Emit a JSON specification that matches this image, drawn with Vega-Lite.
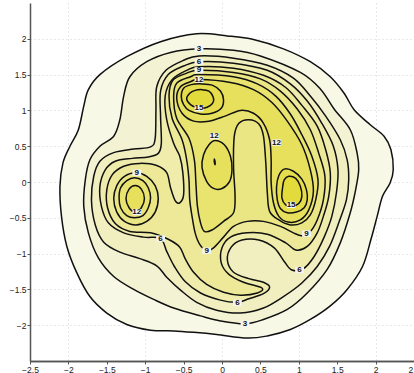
{
  "$schema": "https://vega.github.io/schema/vega-lite/v6.json",
  "width": 384,
  "height": 358,
  "autosize": "none",
  "padding": {"left": 30, "top": 3, "right": 0, "bottom": 12},
  "background": "white",
  "config": {
    "view": {"stroke": null},
    "axis": {
      "grid": true, "gridColor": "#c4c4c4", "gridDash": [1, 3], "gridWidth": 0.8,
      "domainColor": "#555", "domainWidth": 1.5, "tickColor": "#555", "tickSize": 3,
      "labelFont": "Liberation Sans", "labelFontSize": 8.5, "labelColor": "#222", "labelPadding": 1,
      "labelOverlap": false, "labelFlush": false, "format": "~g", "title": null
    }
  },
  "resolve": {"axis": {"x": "independent"}},
  "datasets": {
    "contours": [
      {"p":"p01","l":1.5,"i":0,"x":-0.33,"y":2.07},{"p":"p01","l":1.5,"i":1,"x":0.07,"y":2.04},{"p":"p01","l":1.5,"i":2,"x":0.41,"y":1.99},{"p":"p01","l":1.5,"i":3,"x":0.80,"y":1.86},{"p":"p01","l":1.5,"i":4,"x":1.15,"y":1.68},{"p":"p01","l":1.5,"i":5,"x":1.41,"y":1.47},{"p":"p01","l":1.5,"i":6,"x":1.59,"y":1.24},{"p":"p01","l":1.5,"i":7,"x":1.72,"y":1.01},{"p":"p01","l":1.5,"i":8,"x":1.93,"y":0.80},{"p":"p01","l":1.5,"i":9,"x":2.11,"y":0.64},{"p":"p01","l":1.5,"i":10,"x":2.20,"y":0.45},{"p":"p01","l":1.5,"i":11,"x":2.23,"y":0.17},{"p":"p01","l":1.5,"i":12,"x":2.19,"y":-0.01},{"p":"p01","l":1.5,"i":13,"x":2.09,"y":-0.20},{"p":"p01","l":1.5,"i":14,"x":2.02,"y":-0.48},{"p":"p01","l":1.5,"i":15,"x":1.94,"y":-0.80},{"p":"p01","l":1.5,"i":16,"x":1.83,"y":-1.18},{"p":"p01","l":1.5,"i":17,"x":1.63,"y":-1.50},{"p":"p01","l":1.5,"i":18,"x":1.41,"y":-1.73},{"p":"p01","l":1.5,"i":19,"x":1.15,"y":-1.92},{"p":"p01","l":1.5,"i":20,"x":0.89,"y":-2.06},{"p":"p01","l":1.5,"i":21,"x":0.59,"y":-2.15},{"p":"p01","l":1.5,"i":22,"x":0.33,"y":-2.18},{"p":"p01","l":1.5,"i":23,"x":-0.07,"y":-2.13},{"p":"p01","l":1.5,"i":24,"x":-0.37,"y":-2.10},{"p":"p01","l":1.5,"i":25,"x":-0.63,"y":-2.08},{"p":"p01","l":1.5,"i":26,"x":-0.93,"y":-2.07},{"p":"p01","l":1.5,"i":27,"x":-1.24,"y":-1.99},{"p":"p01","l":1.5,"i":28,"x":-1.50,"y":-1.83},{"p":"p01","l":1.5,"i":29,"x":-1.72,"y":-1.60},{"p":"p01","l":1.5,"i":30,"x":-1.89,"y":-1.27},{"p":"p01","l":1.5,"i":31,"x":-2.02,"y":-0.90},{"p":"p01","l":1.5,"i":32,"x":-2.09,"y":-0.48},{"p":"p01","l":1.5,"i":33,"x":-2.11,"y":-0.06},{"p":"p01","l":1.5,"i":34,"x":-2.07,"y":0.27},{"p":"p01","l":1.5,"i":35,"x":-1.98,"y":0.50},{"p":"p01","l":1.5,"i":36,"x":-1.87,"y":0.73},{"p":"p01","l":1.5,"i":37,"x":-1.80,"y":1.06},{"p":"p01","l":1.5,"i":38,"x":-1.74,"y":1.29},{"p":"p01","l":1.5,"i":39,"x":-1.59,"y":1.50},{"p":"p01","l":1.5,"i":40,"x":-1.24,"y":1.75},{"p":"p01","l":1.5,"i":41,"x":-0.80,"y":1.96},

      {"p":"p02","l":3,"i":0,"x":-0.30,"y":1.86},{"p":"p02","l":3,"i":1,"x":0.15,"y":1.84},{"p":"p02","l":3,"i":2,"x":0.50,"y":1.76},{"p":"p02","l":3,"i":3,"x":1.02,"y":1.53},{"p":"p02","l":3,"i":4,"x":1.28,"y":1.30},{"p":"p02","l":3,"i":5,"x":1.46,"y":1.02},{"p":"p02","l":3,"i":6,"x":1.67,"y":0.73},{"p":"p02","l":3,"i":7,"x":1.76,"y":0.40},{"p":"p02","l":3,"i":8,"x":1.78,"y":0.17},{"p":"p02","l":3,"i":9,"x":1.74,"y":-0.11},{"p":"p02","l":3,"i":10,"x":1.67,"y":-0.43},{"p":"p02","l":3,"i":11,"x":1.54,"y":-0.85},{"p":"p02","l":3,"i":12,"x":1.37,"y":-1.22},{"p":"p02","l":3,"i":13,"x":1.11,"y":-1.55},{"p":"p02","l":3,"i":14,"x":0.85,"y":-1.78},{"p":"p02","l":3,"i":15,"x":0.54,"y":-1.92},{"p":"p02","l":3,"i":16,"x":0.30,"y":-1.98},{"p":"p02","l":3,"i":17,"x":-0.02,"y":-1.94},{"p":"p02","l":3,"i":18,"x":-0.28,"y":-1.87},{"p":"p02","l":3,"i":19,"x":-0.63,"y":-1.76},{"p":"p02","l":3,"i":20,"x":-0.89,"y":-1.64},{"p":"p02","l":3,"i":21,"x":-1.15,"y":-1.50},{"p":"p02","l":3,"i":22,"x":-1.41,"y":-1.32},{"p":"p02","l":3,"i":23,"x":-1.61,"y":-1.06},{"p":"p02","l":3,"i":24,"x":-1.74,"y":-0.71},{"p":"p02","l":3,"i":25,"x":-1.80,"y":-0.34},{"p":"p02","l":3,"i":26,"x":-1.78,"y":0.03},{"p":"p02","l":3,"i":27,"x":-1.72,"y":0.31},{"p":"p02","l":3,"i":28,"x":-1.59,"y":0.50},{"p":"p02","l":3,"i":29,"x":-1.41,"y":0.64},{"p":"p02","l":3,"i":30,"x":-1.33,"y":0.87},{"p":"p02","l":3,"i":31,"x":-1.28,"y":1.20},{"p":"p02","l":3,"i":32,"x":-1.20,"y":1.47},{"p":"p02","l":3,"i":33,"x":-0.98,"y":1.68},{"p":"p02","l":3,"i":34,"x":-0.67,"y":1.81},

      {"p":"p03","l":4.5,"i":0,"x":-0.30,"y":1.76},{"p":"p03","l":4.5,"i":1,"x":0.15,"y":1.73},{"p":"p03","l":4.5,"i":2,"x":0.59,"y":1.63},{"p":"p03","l":4.5,"i":3,"x":0.93,"y":1.45},{"p":"p03","l":4.5,"i":4,"x":1.15,"y":1.20},{"p":"p03","l":4.5,"i":5,"x":1.35,"y":0.92},{"p":"p03","l":4.5,"i":6,"x":1.54,"y":0.59},{"p":"p03","l":4.5,"i":7,"x":1.63,"y":0.31},{"p":"p03","l":4.5,"i":8,"x":1.65,"y":0.03},{"p":"p03","l":4.5,"i":9,"x":1.62,"y":-0.25},{"p":"p03","l":4.5,"i":10,"x":1.52,"y":-0.57},{"p":"p03","l":4.5,"i":11,"x":1.40,"y":-0.90},{"p":"p03","l":4.5,"i":12,"x":1.24,"y":-1.18},{"p":"p03","l":4.5,"i":13,"x":1.04,"y":-1.41},{"p":"p03","l":4.5,"i":14,"x":0.80,"y":-1.60},{"p":"p03","l":4.5,"i":15,"x":0.54,"y":-1.76},{"p":"p03","l":4.5,"i":16,"x":0.24,"y":-1.83},{"p":"p03","l":4.5,"i":17,"x":-0.07,"y":-1.79},{"p":"p03","l":4.5,"i":18,"x":-0.33,"y":-1.68},{"p":"p03","l":4.5,"i":19,"x":-0.54,"y":-1.51},{"p":"p03","l":4.5,"i":20,"x":-0.72,"y":-1.33},{"p":"p03","l":4.5,"i":21,"x":-0.85,"y":-1.17},{"p":"p03","l":4.5,"i":22,"x":-1.07,"y":-1.07},{"p":"p03","l":4.5,"i":23,"x":-1.33,"y":-0.98},{"p":"p03","l":4.5,"i":24,"x":-1.54,"y":-0.84},{"p":"p03","l":4.5,"i":25,"x":-1.65,"y":-0.60},{"p":"p03","l":4.5,"i":26,"x":-1.70,"y":-0.25},{"p":"p03","l":4.5,"i":27,"x":-1.67,"y":0.08},{"p":"p03","l":4.5,"i":28,"x":-1.59,"y":0.29},{"p":"p03","l":4.5,"i":29,"x":-1.41,"y":0.41},{"p":"p03","l":4.5,"i":30,"x":-1.15,"y":0.46},{"p":"p03","l":4.5,"i":31,"x":-0.93,"y":0.49},{"p":"p03","l":4.5,"i":32,"x":-0.87,"y":0.61},{"p":"p03","l":4.5,"i":33,"x":-0.86,"y":1.01},{"p":"p03","l":4.5,"i":34,"x":-0.85,"y":1.33},{"p":"p03","l":4.5,"i":35,"x":-0.73,"y":1.56},{"p":"p03","l":4.5,"i":36,"x":-0.50,"y":1.70},

      {"p":"p04","l":6,"i":0,"x":-0.30,"y":1.68},{"p":"p04","l":6,"i":1,"x":0.15,"y":1.66},{"p":"p04","l":6,"i":2,"x":0.59,"y":1.56},{"p":"p04","l":6,"i":3,"x":0.89,"y":1.37},{"p":"p04","l":6,"i":4,"x":1.11,"y":1.13},{"p":"p04","l":6,"i":5,"x":1.30,"y":0.82},{"p":"p04","l":6,"i":6,"x":1.45,"y":0.50},{"p":"p04","l":6,"i":7,"x":1.51,"y":0.17},{"p":"p04","l":6,"i":8,"x":1.49,"y":-0.15},{"p":"p04","l":6,"i":9,"x":1.43,"y":-0.48},{"p":"p04","l":6,"i":10,"x":1.33,"y":-0.77},{"p":"p04","l":6,"i":11,"x":1.20,"y":-1.04},{"p":"p04","l":6,"i":12,"x":1.06,"y":-1.21},{"p":"p04","l":6,"i":13,"x":0.91,"y":-1.23},{"p":"p04","l":6,"i":14,"x":0.81,"y":-1.11},{"p":"p04","l":6,"i":15,"x":0.68,"y":-0.92},{"p":"p04","l":6,"i":16,"x":0.48,"y":-0.81},{"p":"p04","l":6,"i":17,"x":0.26,"y":-0.81},{"p":"p04","l":6,"i":18,"x":0.12,"y":-0.91},{"p":"p04","l":6,"i":19,"x":0.07,"y":-1.09},{"p":"p04","l":6,"i":20,"x":0.15,"y":-1.26},{"p":"p04","l":6,"i":21,"x":0.35,"y":-1.35},{"p":"p04","l":6,"i":22,"x":0.54,"y":-1.40},{"p":"p04","l":6,"i":23,"x":0.62,"y":-1.47},{"p":"p04","l":6,"i":24,"x":0.54,"y":-1.56},{"p":"p04","l":6,"i":25,"x":0.35,"y":-1.63},{"p":"p04","l":6,"i":26,"x":0.20,"y":-1.68},{"p":"p04","l":6,"i":27,"x":-0.02,"y":-1.65},{"p":"p04","l":6,"i":28,"x":-0.28,"y":-1.55},{"p":"p04","l":6,"i":29,"x":-0.48,"y":-1.39},{"p":"p04","l":6,"i":30,"x":-0.62,"y":-1.18},{"p":"p04","l":6,"i":31,"x":-0.72,"y":-0.97},{"p":"p04","l":6,"i":32,"x":-0.80,"y":-0.79},{"p":"p04","l":6,"i":33,"x":-1.02,"y":-0.77},{"p":"p04","l":6,"i":34,"x":-1.28,"y":-0.71},{"p":"p04","l":6,"i":35,"x":-1.48,"y":-0.57},{"p":"p04","l":6,"i":36,"x":-1.57,"y":-0.34},{"p":"p04","l":6,"i":37,"x":-1.59,"y":-0.06},{"p":"p04","l":6,"i":38,"x":-1.52,"y":0.17},{"p":"p04","l":6,"i":39,"x":-1.39,"y":0.29},{"p":"p04","l":6,"i":40,"x":-1.17,"y":0.33},{"p":"p04","l":6,"i":41,"x":-0.96,"y":0.35},{"p":"p04","l":6,"i":42,"x":-0.83,"y":0.40},{"p":"p04","l":6,"i":43,"x":-0.79,"y":0.54},{"p":"p04","l":6,"i":44,"x":-0.80,"y":0.92},{"p":"p04","l":6,"i":45,"x":-0.80,"y":1.27},{"p":"p04","l":6,"i":46,"x":-0.70,"y":1.50},{"p":"p04","l":6,"i":47,"x":-0.50,"y":1.62},

      {"p":"p05","l":7.5,"i":0,"x":-0.30,"y":1.61},{"p":"p05","l":7.5,"i":1,"x":0.15,"y":1.59},{"p":"p05","l":7.5,"i":2,"x":0.54,"y":1.49},{"p":"p05","l":7.5,"i":3,"x":0.83,"y":1.32},{"p":"p05","l":7.5,"i":4,"x":1.04,"y":1.07},{"p":"p05","l":7.5,"i":5,"x":1.24,"y":0.78},{"p":"p05","l":7.5,"i":6,"x":1.35,"y":0.45},{"p":"p05","l":7.5,"i":7,"x":1.41,"y":0.13},{"p":"p05","l":7.5,"i":8,"x":1.39,"y":-0.20},{"p":"p05","l":7.5,"i":9,"x":1.32,"y":-0.48},{"p":"p05","l":7.5,"i":10,"x":1.24,"y":-0.71},{"p":"p05","l":7.5,"i":11,"x":1.11,"y":-0.90},{"p":"p05","l":7.5,"i":12,"x":0.96,"y":-0.95},{"p":"p05","l":7.5,"i":13,"x":0.83,"y":-0.85},{"p":"p05","l":7.5,"i":14,"x":0.59,"y":-0.73},{"p":"p05","l":7.5,"i":15,"x":0.33,"y":-0.71},{"p":"p05","l":7.5,"i":16,"x":0.11,"y":-0.77},{"p":"p05","l":7.5,"i":17,"x":0.00,"y":-0.92},{"p":"p05","l":7.5,"i":18,"x":-0.01,"y":-1.13},{"p":"p05","l":7.5,"i":19,"x":0.09,"y":-1.29},{"p":"p05","l":7.5,"i":20,"x":0.28,"y":-1.40},{"p":"p05","l":7.5,"i":21,"x":0.52,"y":-1.48},{"p":"p05","l":7.5,"i":22,"x":0.46,"y":-1.55},{"p":"p05","l":7.5,"i":23,"x":0.24,"y":-1.58},{"p":"p05","l":7.5,"i":24,"x":0.02,"y":-1.54},{"p":"p05","l":7.5,"i":25,"x":-0.20,"y":-1.43},{"p":"p05","l":7.5,"i":26,"x":-0.37,"y":-1.26},{"p":"p05","l":7.5,"i":27,"x":-0.48,"y":-1.07},{"p":"p05","l":7.5,"i":28,"x":-0.55,"y":-0.91},{"p":"p05","l":7.5,"i":29,"x":-0.70,"y":-0.80},{"p":"p05","l":7.5,"i":30,"x":-0.93,"y":-0.71},{"p":"p05","l":7.5,"i":31,"x":-1.20,"y":-0.69},{"p":"p05","l":7.5,"i":32,"x":-1.39,"y":-0.58},{"p":"p05","l":7.5,"i":33,"x":-1.49,"y":-0.36},{"p":"p05","l":7.5,"i":34,"x":-1.50,"y":-0.11},{"p":"p05","l":7.5,"i":35,"x":-1.43,"y":0.10},{"p":"p05","l":7.5,"i":36,"x":-1.28,"y":0.22},{"p":"p05","l":7.5,"i":37,"x":-1.07,"y":0.26},{"p":"p05","l":7.5,"i":38,"x":-0.85,"y":0.23},{"p":"p05","l":7.5,"i":39,"x":-0.72,"y":0.13},{"p":"p05","l":7.5,"i":40,"x":-0.67,"y":-0.08},{"p":"p05","l":7.5,"i":41,"x":-0.61,"y":-0.26},{"p":"p05","l":7.5,"i":42,"x":-0.55,"y":-0.29},{"p":"p05","l":7.5,"i":43,"x":-0.50,"y":-0.18},{"p":"p05","l":7.5,"i":44,"x":-0.51,"y":0.13},{"p":"p05","l":7.5,"i":45,"x":-0.55,"y":0.36},{"p":"p05","l":7.5,"i":46,"x":-0.63,"y":0.54},{"p":"p05","l":7.5,"i":47,"x":-0.72,"y":0.87},{"p":"p05","l":7.5,"i":48,"x":-0.74,"y":1.20},{"p":"p05","l":7.5,"i":49,"x":-0.65,"y":1.43},{"p":"p05","l":7.5,"i":50,"x":-0.46,"y":1.56},

      {"p":"p06","l":9,"i":0,"x":-0.83,"y":-0.23},{"p":"p06","l":9,"i":1,"x":-0.87,"y":-0.05},{"p":"p06","l":9,"i":2,"x":-0.98,"y":0.08},{"p":"p06","l":9,"i":3,"x":-1.12,"y":0.13},{"p":"p06","l":9,"i":4,"x":-1.27,"y":0.08},{"p":"p06","l":9,"i":5,"x":-1.37,"y":-0.05},{"p":"p06","l":9,"i":6,"x":-1.41,"y":-0.23},{"p":"p06","l":9,"i":7,"x":-1.37,"y":-0.42},{"p":"p06","l":9,"i":8,"x":-1.27,"y":-0.55},{"p":"p06","l":9,"i":9,"x":-1.12,"y":-0.60},{"p":"p06","l":9,"i":10,"x":-0.98,"y":-0.55},{"p":"p06","l":9,"i":11,"x":-0.87,"y":-0.42},

      {"p":"p07","l":9,"i":0,"x":-0.30,"y":1.56},{"p":"p07","l":9,"i":1,"x":0.15,"y":1.53},{"p":"p07","l":9,"i":2,"x":0.50,"y":1.44},{"p":"p07","l":9,"i":3,"x":0.76,"y":1.27},{"p":"p07","l":9,"i":4,"x":0.98,"y":1.02},{"p":"p07","l":9,"i":5,"x":1.15,"y":0.73},{"p":"p07","l":9,"i":6,"x":1.26,"y":0.40},{"p":"p07","l":9,"i":7,"x":1.34,"y":0.08},{"p":"p07","l":9,"i":8,"x":1.32,"y":-0.25},{"p":"p07","l":9,"i":9,"x":1.24,"y":-0.53},{"p":"p07","l":9,"i":10,"x":1.15,"y":-0.69},{"p":"p07","l":9,"i":11,"x":1.04,"y":-0.75},{"p":"p07","l":9,"i":12,"x":0.93,"y":-0.71},{"p":"p07","l":9,"i":13,"x":0.76,"y":-0.62},{"p":"p07","l":9,"i":14,"x":0.54,"y":-0.55},{"p":"p07","l":9,"i":15,"x":0.33,"y":-0.55},{"p":"p07","l":9,"i":16,"x":0.15,"y":-0.62},{"p":"p07","l":9,"i":17,"x":0.02,"y":-0.77},{"p":"p07","l":9,"i":18,"x":-0.11,"y":-0.92},{"p":"p07","l":9,"i":19,"x":-0.20,"y":-0.96},{"p":"p07","l":9,"i":20,"x":-0.29,"y":-0.87},{"p":"p07","l":9,"i":21,"x":-0.35,"y":-0.71},{"p":"p07","l":9,"i":22,"x":-0.39,"y":-0.48},{"p":"p07","l":9,"i":23,"x":-0.42,"y":-0.25},{"p":"p07","l":9,"i":24,"x":-0.43,"y":0.03},{"p":"p07","l":9,"i":25,"x":-0.46,"y":0.31},{"p":"p07","l":9,"i":26,"x":-0.52,"y":0.59},{"p":"p07","l":9,"i":27,"x":-0.65,"y":0.89},{"p":"p07","l":9,"i":28,"x":-0.69,"y":1.20},{"p":"p07","l":9,"i":29,"x":-0.64,"y":1.42},{"p":"p07","l":9,"i":30,"x":-0.46,"y":1.52},

      {"p":"p08","l":10.5,"i":0,"x":-0.93,"y":-0.22},{"p":"p08","l":10.5,"i":1,"x":-0.96,"y":-0.08},{"p":"p08","l":10.5,"i":2,"x":-1.03,"y":0.02},{"p":"p08","l":10.5,"i":3,"x":-1.14,"y":0.06},{"p":"p08","l":10.5,"i":4,"x":-1.24,"y":0.02},{"p":"p08","l":10.5,"i":5,"x":-1.32,"y":-0.08},{"p":"p08","l":10.5,"i":6,"x":-1.34,"y":-0.22},{"p":"p08","l":10.5,"i":7,"x":-1.32,"y":-0.36},{"p":"p08","l":10.5,"i":8,"x":-1.24,"y":-0.47},{"p":"p08","l":10.5,"i":9,"x":-1.14,"y":-0.50},{"p":"p08","l":10.5,"i":10,"x":-1.03,"y":-0.47},{"p":"p08","l":10.5,"i":11,"x":-0.96,"y":-0.36},

      {"p":"p09","l":10.5,"i":0,"x":-0.30,"y":1.50},{"p":"p09","l":10.5,"i":1,"x":0.15,"y":1.47},{"p":"p09","l":10.5,"i":2,"x":0.46,"y":1.37},{"p":"p09","l":10.5,"i":3,"x":0.70,"y":1.20},{"p":"p09","l":10.5,"i":4,"x":0.89,"y":0.95},{"p":"p09","l":10.5,"i":5,"x":1.04,"y":0.66},{"p":"p09","l":10.5,"i":6,"x":1.17,"y":0.36},{"p":"p09","l":10.5,"i":7,"x":1.25,"y":0.03},{"p":"p09","l":10.5,"i":8,"x":1.22,"y":-0.25},{"p":"p09","l":10.5,"i":9,"x":1.15,"y":-0.46},{"p":"p09","l":10.5,"i":10,"x":1.04,"y":-0.57},{"p":"p09","l":10.5,"i":11,"x":0.89,"y":-0.60},{"p":"p09","l":10.5,"i":12,"x":0.74,"y":-0.53},{"p":"p09","l":10.5,"i":13,"x":0.62,"y":-0.41},{"p":"p09","l":10.5,"i":14,"x":0.59,"y":-0.15},{"p":"p09","l":10.5,"i":15,"x":0.57,"y":0.27},{"p":"p09","l":10.5,"i":16,"x":0.54,"y":0.64},{"p":"p09","l":10.5,"i":17,"x":0.48,"y":0.81},{"p":"p09","l":10.5,"i":18,"x":0.35,"y":0.87},{"p":"p09","l":10.5,"i":19,"x":0.22,"y":0.82},{"p":"p09","l":10.5,"i":20,"x":0.16,"y":0.64},{"p":"p09","l":10.5,"i":21,"x":0.15,"y":0.22},{"p":"p09","l":10.5,"i":22,"x":0.17,"y":-0.20},{"p":"p09","l":10.5,"i":23,"x":0.15,"y":-0.43},{"p":"p09","l":10.5,"i":24,"x":0.02,"y":-0.55},{"p":"p09","l":10.5,"i":25,"x":-0.13,"y":-0.67},{"p":"p09","l":10.5,"i":26,"x":-0.23,"y":-0.69},{"p":"p09","l":10.5,"i":27,"x":-0.28,"y":-0.57},{"p":"p09","l":10.5,"i":28,"x":-0.32,"y":-0.34},{"p":"p09","l":10.5,"i":29,"x":-0.34,"y":-0.01},{"p":"p09","l":10.5,"i":30,"x":-0.36,"y":0.31},{"p":"p09","l":10.5,"i":31,"x":-0.43,"y":0.61},{"p":"p09","l":10.5,"i":32,"x":-0.59,"y":0.89},{"p":"p09","l":10.5,"i":33,"x":-0.63,"y":1.19},{"p":"p09","l":10.5,"i":34,"x":-0.59,"y":1.38},{"p":"p09","l":10.5,"i":35,"x":-0.41,"y":1.47},

      {"p":"p10","l":12,"i":0,"x":-1.01,"y":-0.23},{"p":"p10","l":12,"i":1,"x":-1.05,"y":-0.10},{"p":"p10","l":12,"i":2,"x":-1.13,"y":-0.05},{"p":"p10","l":12,"i":3,"x":-1.21,"y":-0.10},{"p":"p10","l":12,"i":4,"x":-1.25,"y":-0.23},{"p":"p10","l":12,"i":5,"x":-1.21,"y":-0.36},{"p":"p10","l":12,"i":6,"x":-1.13,"y":-0.42},{"p":"p10","l":12,"i":7,"x":-1.05,"y":-0.36},

      {"p":"p11","l":12,"i":0,"x":-0.09,"y":0.58},{"p":"p11","l":12,"i":1,"x":0.03,"y":0.52},{"p":"p11","l":12,"i":2,"x":0.11,"y":0.36},{"p":"p11","l":12,"i":3,"x":0.13,"y":0.17},{"p":"p11","l":12,"i":4,"x":0.10,"y":0.01},{"p":"p11","l":12,"i":5,"x":0.00,"y":-0.09},{"p":"p11","l":12,"i":6,"x":-0.11,"y":-0.09},{"p":"p11","l":12,"i":7,"x":-0.20,"y":0.01},{"p":"p11","l":12,"i":8,"x":-0.26,"y":0.20},{"p":"p11","l":12,"i":9,"x":-0.24,"y":0.38},{"p":"p11","l":12,"i":10,"x":-0.17,"y":0.52},

      {"p":"p12","l":12,"i":0,"x":-0.30,"y":1.43},{"p":"p12","l":12,"i":1,"x":0.11,"y":1.39},{"p":"p12","l":12,"i":2,"x":0.41,"y":1.29},{"p":"p12","l":12,"i":3,"x":0.65,"y":1.11},{"p":"p12","l":12,"i":4,"x":0.85,"y":0.85},{"p":"p12","l":12,"i":5,"x":1.04,"y":0.52},{"p":"p12","l":12,"i":6,"x":1.15,"y":0.17},{"p":"p12","l":12,"i":7,"x":1.19,"y":-0.13},{"p":"p12","l":12,"i":8,"x":1.13,"y":-0.39},{"p":"p12","l":12,"i":9,"x":1.02,"y":-0.53},{"p":"p12","l":12,"i":10,"x":0.86,"y":-0.56},{"p":"p12","l":12,"i":11,"x":0.74,"y":-0.48},{"p":"p12","l":12,"i":12,"x":0.67,"y":-0.29},{"p":"p12","l":12,"i":13,"x":0.64,"y":-0.01},{"p":"p12","l":12,"i":14,"x":0.64,"y":0.31},{"p":"p12","l":12,"i":15,"x":0.62,"y":0.59},{"p":"p12","l":12,"i":16,"x":0.54,"y":0.82},{"p":"p12","l":12,"i":17,"x":0.41,"y":0.96},{"p":"p12","l":12,"i":18,"x":0.24,"y":1.00},{"p":"p12","l":12,"i":19,"x":0.04,"y":0.92},{"p":"p12","l":12,"i":20,"x":-0.17,"y":0.85},{"p":"p12","l":12,"i":21,"x":-0.37,"y":0.85},{"p":"p12","l":12,"i":22,"x":-0.52,"y":0.96},{"p":"p12","l":12,"i":23,"x":-0.59,"y":1.17},{"p":"p12","l":12,"i":24,"x":-0.54,"y":1.33},{"p":"p12","l":12,"i":25,"x":-0.41,"y":1.40},

      {"p":"p13","l":13.5,"i":0,"x":-0.53,"y":1.19},{"p":"p13","l":13.5,"i":1,"x":-0.50,"y":1.31},{"p":"p13","l":13.5,"i":2,"x":-0.40,"y":1.36},{"p":"p13","l":13.5,"i":3,"x":-0.26,"y":1.37},{"p":"p13","l":13.5,"i":4,"x":-0.12,"y":1.35},{"p":"p13","l":13.5,"i":5,"x":-0.02,"y":1.27},{"p":"p13","l":13.5,"i":6,"x":0.02,"y":1.15},{"p":"p13","l":13.5,"i":7,"x":-0.01,"y":1.03},{"p":"p13","l":13.5,"i":8,"x":-0.13,"y":0.96},{"p":"p13","l":13.5,"i":9,"x":-0.28,"y":0.95},{"p":"p13","l":13.5,"i":10,"x":-0.43,"y":1.00},{"p":"p13","l":13.5,"i":11,"x":-0.50,"y":1.08},

      {"p":"p14","l":13.5,"i":0,"x":0.81,"y":0.18},{"p":"p14","l":13.5,"i":1,"x":0.93,"y":0.15},{"p":"p14","l":13.5,"i":2,"x":1.04,"y":0.04},{"p":"p14","l":13.5,"i":3,"x":1.10,"y":-0.11},{"p":"p14","l":13.5,"i":4,"x":1.11,"y":-0.25},{"p":"p14","l":13.5,"i":5,"x":1.07,"y":-0.36},{"p":"p14","l":13.5,"i":6,"x":0.97,"y":-0.42},{"p":"p14","l":13.5,"i":7,"x":0.85,"y":-0.43},{"p":"p14","l":13.5,"i":8,"x":0.76,"y":-0.37},{"p":"p14","l":13.5,"i":9,"x":0.72,"y":-0.25},{"p":"p14","l":13.5,"i":10,"x":0.71,"y":-0.07},{"p":"p14","l":13.5,"i":11,"x":0.74,"y":0.09},

      {"p":"p15","l":13.5,"i":0,"x":-0.10,"y":0.32},{"p":"p15","l":13.5,"i":1,"x":-0.09,"y":0.28},{"p":"p15","l":13.5,"i":2,"x":-0.09,"y":0.24},{"p":"p15","l":13.5,"i":3,"x":-0.10,"y":0.28},

      {"p":"p16","l":15,"i":0,"x":-0.46,"y":1.16},{"p":"p16","l":15,"i":1,"x":-0.42,"y":1.24},{"p":"p16","l":15,"i":2,"x":-0.35,"y":1.28},{"p":"p16","l":15,"i":3,"x":-0.26,"y":1.29},{"p":"p16","l":15,"i":4,"x":-0.17,"y":1.27},{"p":"p16","l":15,"i":5,"x":-0.12,"y":1.20},{"p":"p16","l":15,"i":6,"x":-0.11,"y":1.13},{"p":"p16","l":15,"i":7,"x":-0.15,"y":1.07},{"p":"p16","l":15,"i":8,"x":-0.24,"y":1.03},{"p":"p16","l":15,"i":9,"x":-0.33,"y":1.04},{"p":"p16","l":15,"i":10,"x":-0.41,"y":1.08},

      {"p":"p17","l":15,"i":0,"x":0.87,"y":0.08},{"p":"p17","l":15,"i":1,"x":0.96,"y":0.05},{"p":"p17","l":15,"i":2,"x":1.02,"y":-0.06},{"p":"p17","l":15,"i":3,"x":1.04,"y":-0.20},{"p":"p17","l":15,"i":4,"x":1.00,"y":-0.30},{"p":"p17","l":15,"i":5,"x":0.91,"y":-0.34},{"p":"p17","l":15,"i":6,"x":0.83,"y":-0.32},{"p":"p17","l":15,"i":7,"x":0.78,"y":-0.22},{"p":"p17","l":15,"i":8,"x":0.79,"y":-0.07},{"p":"p17","l":15,"i":9,"x":0.81,"y":0.03}
    ],
    "labels": [
      {"t":"3","x":-0.30,"y":1.86},{"t":"6","x":-0.30,"y":1.68},{"t":"9","x":-0.30,"y":1.56},{"t":"12","x":-0.30,"y":1.43},
      {"t":"15","x":-0.30,"y":1.03},{"t":"12","x":-0.10,"y":0.64},{"t":"12","x":0.71,"y":0.55},{"t":"9","x":-1.11,"y":0.13},
      {"t":"12","x":-1.11,"y":-0.42},{"t":"15","x":0.90,"y":-0.32},{"t":"6","x":-0.80,"y":-0.79},{"t":"9","x":-0.20,"y":-0.96},
      {"t":"9","x":1.10,"y":-0.72},{"t":"6","x":1.01,"y":-1.23},{"t":"6","x":0.20,"y":-1.69},{"t":"3","x":0.30,"y":-1.98}
    ]
  },
  "layer": [
    {
      "data": {"name": "contours"},
      "mark": {"type": "line", "interpolate": "cardinal-closed", "stroke": "#111", "strokeWidth": 1.5, "clip": true},
      "encoding": {
        "x": {"field": "x", "type": "quantitative", "scale": {"domain": [-2.5, 2.5], "nice": false, "zero": false},
              "axis": {"orient": "bottom", "values": [-2, -1, 0, 1, 2], "format": "d"}},
        "y": {"field": "y", "type": "quantitative", "scale": {"domain": [-2.5, 2.5], "nice": false, "zero": false},
              "axis": {"values": [-2, -1.5, -1, -0.5, 0, 0.5, 1, 1.5, 2]}},
        "detail": {"field": "p", "type": "nominal"},
        "order": {"field": "i", "type": "quantitative"},
        "fill": {"field": "l", "type": "ordinal", "legend": null,
                 "scale": {"domain": [1.5, 3, 4.5, 6, 7.5, 9, 10.5, 12, 13.5, 15],
                           "range": ["#f7f8e6", "#f3f3d4", "#f1efc0", "#efecac", "#ede998", "#ebe684", "#e9e370", "#e7e05d", "#e5dd4c", "#e3da3c"]}}
      }
    },
    {
      "data": {"name": "labels"},
      "mark": {"type": "point", "shape": "M-1.4,-1L1.4,-1L1.4,1L-1.4,1Z", "size": 40, "filled": true, "color": "#f4f4f4", "opacity": 1, "strokeWidth": 0},
      "encoding": {
        "x": {"field": "x", "type": "quantitative", "axis": {"orient": "bottom", "values": [-2.5, -1.5, -0.5, 0.5, 1.5, 2.5], "format": ".1f"}},
        "y": {"field": "y", "type": "quantitative"}
      }
    },
    {
      "data": {"name": "labels"},
      "mark": {"type": "text", "font": "Liberation Sans", "fontSize": 8, "fontWeight": "bold", "color": "#111", "baseline": "middle", "align": "center"},
      "encoding": {
        "x": {"field": "x", "type": "quantitative", "axis": null},
        "y": {"field": "y", "type": "quantitative"},
        "text": {"field": "t", "type": "nominal"}
      }
    },
    {
      "mark": {"type": "rule", "color": "#666", "strokeWidth": 1.5},
      "encoding": {"y": {"datum": 2.5}}
    }
  ]
}
